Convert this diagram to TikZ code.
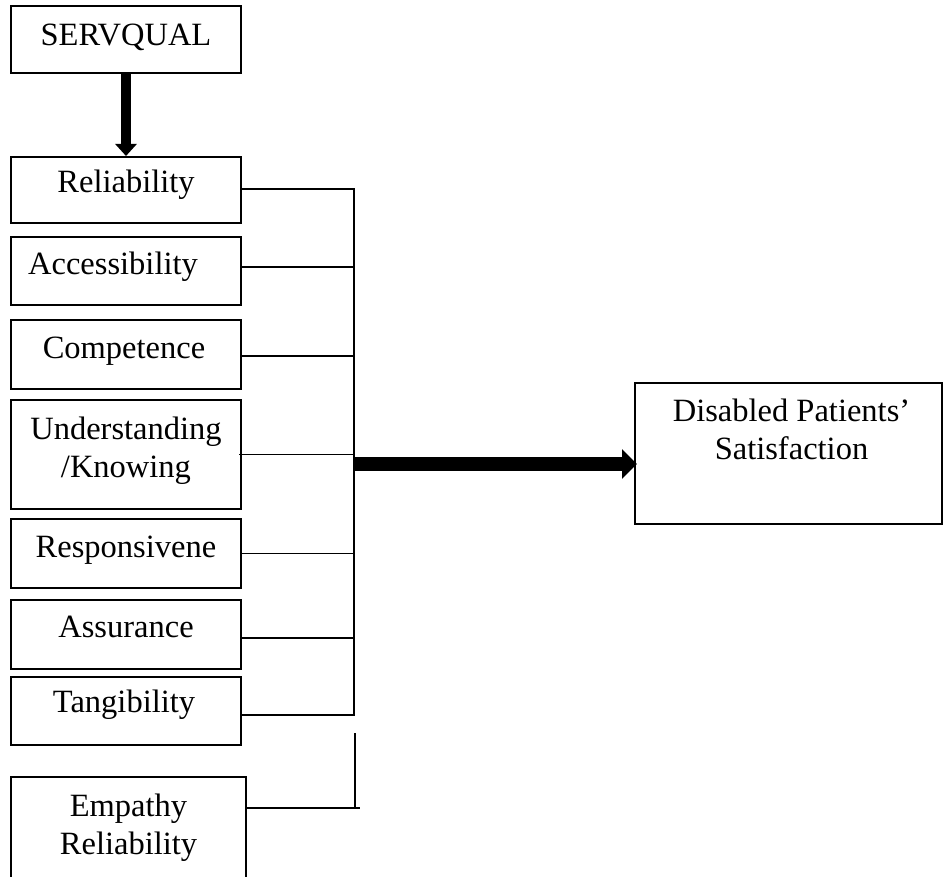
\documentclass[tikz,border=0pt]{standalone}
\usepackage{fontspec}
\setmainfont{Liberation Serif}
\usepackage{tikz}
\usetikzlibrary{arrows.meta,positioning}

\begin{document}
\begin{tikzpicture}[x=1pt, y=-1pt]
  \tikzstyle{box} = [draw, line width=2pt, inner sep=0pt, minimum width=230pt]
  \tikzstyle{word} = [font=\fontsize{32.5}{38}\selectfont, color=black, inner sep=0pt, anchor=base, align=center]
  \tikzstyle{link} = [line width=1.7pt]
  \tikzstyle{fat} = [line width=10pt, -{Triangle[width=21pt,length=12pt]}]
  \useasboundingbox (0,0) rectangle (943,877);

  \node (SERVQUAL) [box, minimum height=67pt] at (126,39.5) {};
  \node (REL)   [box, minimum height=66pt]  at (126,190) {};
  \node (ACC)   [box, minimum height=68pt]  at (126,271) {};
  \node (COMP)  [box, minimum height=69pt]  at (126,354.5) {};
  \node (UND)   [box, minimum height=109pt] at (126,454.5) {};
  \node (RESP)  [box, minimum height=69pt]  at (126,553.5) {};
  \node (ASSUR) [box, minimum height=69pt]  at (126,634.5) {};
  \node (TANG)  [box, minimum height=68pt]  at (126,711) {};
  \node (EMP)   [box, minimum width=235pt, minimum height=108pt] at (128.5,831) {};
  \node (SAT)   [box, minimum width=307pt, minimum height=141pt] at (788.5,453.5) {};

  \node (tSERVQUAL) [word] at ([yshift=-41pt]SERVQUAL.north) {SERVQUAL};
  \node (tREL)   [word] at ([yshift=-37pt]REL.north) {Reliability};
  \node (tACC)   [word] at ([xshift=-13pt,yshift=-39pt]ACC.north) {Accessibility};
  \node (tCOMP)  [word] at ([xshift=-2pt,yshift=-40pt]COMP.north) {Competence};
  \node (tUND)   [word] at ([yshift=-78pt]UND.north) {Understanding\\/Knowing};
  \node (tRESP)  [word] at ([yshift=-39pt]RESP.north) {Responsivene};
  \node (tASSUR) [word] at ([yshift=-38pt]ASSUR.north) {Assurance};
  \node (tTANG)  [word] at ([xshift=-2pt,yshift=-36pt]TANG.north) {Tangibility};
  \node (tEMP)   [word] at ([yshift=-78pt]EMP.north) {Empathy\\Reliability};
  \node (tSAT)   [word] at ([xshift=3pt,yshift=-77pt]SAT.north) {Disabled Patients’\\Satisfaction};

  \draw[fat] (SERVQUAL.south) -- (REL.north);

  \coordinate (BUS) at (354,0);
  \draw[link] ([yshift=1pt]REL.east) -- ([yshift=1pt]REL.east -| BUS);
  \draw[link] ([yshift=4pt]ACC.east) -- ([yshift=4pt]ACC.east -| BUS);
  \draw[link] ([yshift=-1.5pt]COMP.east) -- ([yshift=-1.5pt]COMP.east -| BUS);
  \draw[link] ([xshift=-3pt]UND.east) -- (UND.east -| BUS);
  \draw[link] (RESP.east) -- (RESP.east -| BUS);
  \draw[link] ([yshift=-3.5pt]ASSUR.east) -- ([yshift=-3.5pt]ASSUR.east -| BUS);
  \draw[link, line cap=rect] ([yshift=1pt]REL.east -| BUS) -- ([yshift=-4pt]TANG.east -| BUS) -- ([yshift=-4pt]TANG.east);

  \coordinate (BREAK) at (355,733);
  \coordinate (EMPEND) at (360,808);
  \draw[link] ([yshift=23pt]EMP.east) -- (EMPEND);
  \draw[link] (BREAK) -- (BREAK |- EMPEND);

  \coordinate (HUB) at (353,464);
  \draw[fat, line width=14pt, -{Triangle[width=29pt,length=15pt]}] (HUB) -- ([xshift=3pt]HUB -| SAT.west);
\end{tikzpicture}
\end{document}
